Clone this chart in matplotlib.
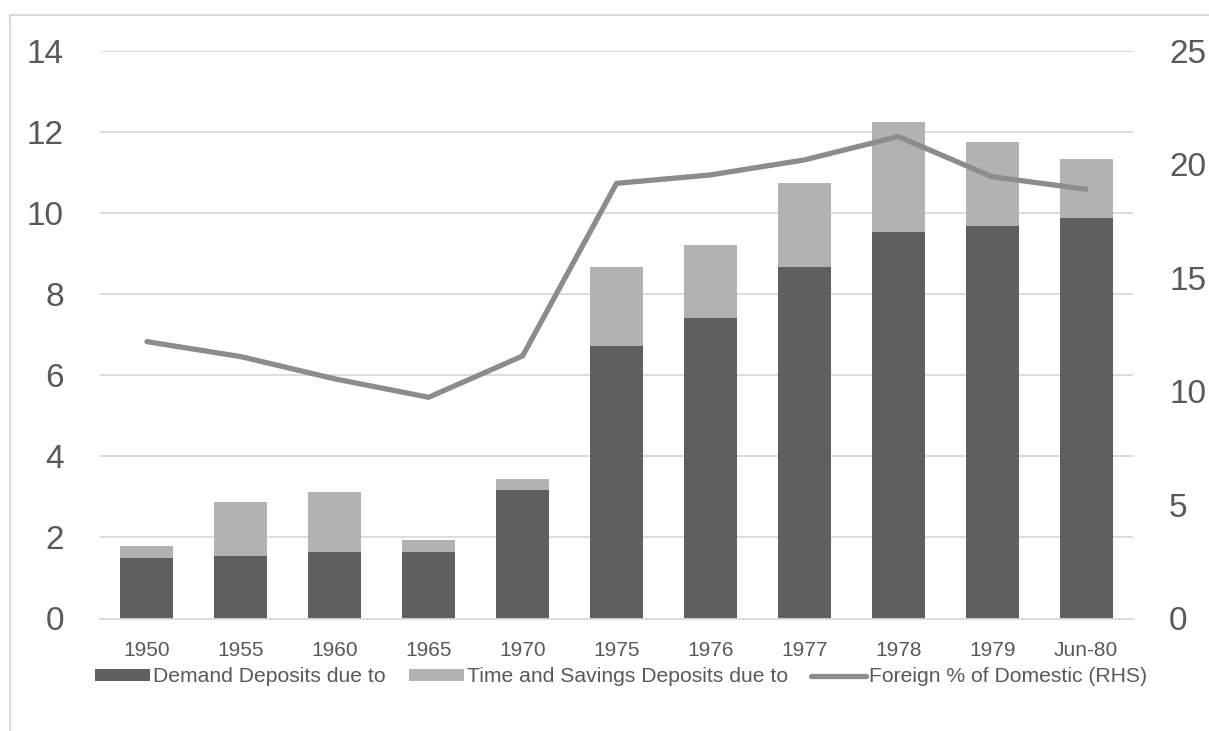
import matplotlib.pyplot as plt
import numpy as np
from matplotlib.patches import Rectangle

# data
years = ['1950', '1955', '1960', '1965', '1970', '1975', '1976', '1977', '1978', '1979', 'Jun-80']
demand = [1.48, 1.54, 1.63, 1.63, 3.17, 6.71, 7.40, 8.66, 9.54, 9.69, 9.87]
total = [1.79, 2.87, 3.12, 1.93, 3.45, 8.67, 9.20, 10.73, 12.25, 11.75, 11.34]
time_sav = [t - d for t, d in zip(total, demand)]
foreign_pct = [12.19, 11.53, 10.55, 9.74, 11.56, 19.16, 19.53, 20.19, 21.22, 19.45, 18.90]

dark = '#5f5f5f'
light = '#b2b2b2'
linec = '#8c8c8c'
txt = '#595959'
grid = '#d9d9d9'

plt.rcParams['font.family'] = ['Liberation Sans', 'DejaVu Sans']

W, H = 1209, 731
fig = plt.figure(figsize=(W / 100, H / 100), dpi=100)
# outer chart frame, cut off at right and bottom
fig.patches.append(Rectangle((10 / W, -0.1), 1.2, (H - 15) / H + 0.1,
                             transform=fig.transFigure, fill=False,
                             edgecolor=grid, linewidth=1.5))

ax = fig.add_axes([100 / W, (H - 618.5) / H, 1033 / W, 567.8 / H])
x = np.arange(len(years))
b1 = ax.bar(x, demand, width=0.565, color=dark, label='Demand Deposits due to', zorder=2)
b2 = ax.bar(x, time_sav, bottom=demand, width=0.565, color=light,
            label='Time and Savings Deposits due to', zorder=2)
ax.set_xlim(-0.5, len(years) - 0.5)
ax.set_ylim(0, 14)
ax.set_yticks(range(0, 15, 2))
ax.yaxis.grid(True, color=grid, linewidth=1.3, zorder=0)
ax.set_axisbelow(True)
for s in ax.spines.values():
    s.set_visible(False)
ax.spines['bottom'].set_visible(True)
ax.spines['bottom'].set_color(grid)
ax.spines['bottom'].set_linewidth(1.3)
ax.set_xticks(x)
ax.set_xticklabels(years)
ax.tick_params(axis='x', length=0, pad=16, labelsize=15, labelcolor=txt)
ax.tick_params(axis='y', length=0, pad=26, labelsize=24, labelcolor=txt)

ax2 = ax.twinx()
l1, = ax2.plot(x, foreign_pct, color=linec, linewidth=3.8,
               solid_capstyle='round', solid_joinstyle='round',
               label='Foreign % of Domestic (RHS)')
ax2.set_ylim(0, 25)
ax2.set_yticks(range(0, 26, 5))
for s in ax2.spines.values():
    s.set_visible(False)
ax2.tick_params(axis='y', length=0, pad=26, labelsize=24, labelcolor=txt)

fig.legend(handles=[b1, b2, l1], loc='center', bbox_to_anchor=(621 / W, (H - 677) / H),
           ncol=3, frameon=False, fontsize=15.2, labelcolor=txt,
           handlelength=2.6, handleheight=0.55, handletextpad=0.15, columnspacing=1.1)

plt.savefig('out.png', dpi=100)
